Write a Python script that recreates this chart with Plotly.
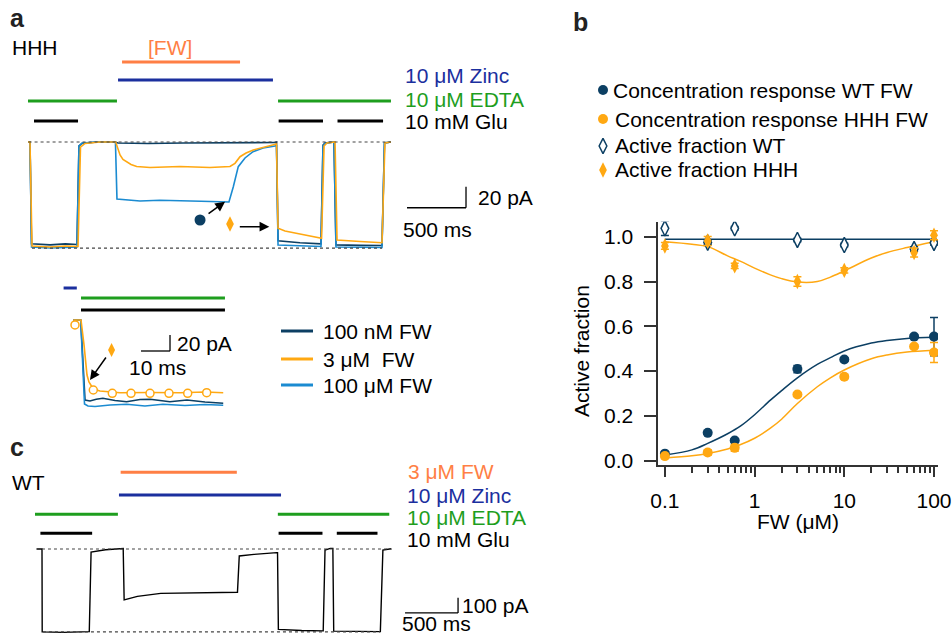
import plotly.graph_objects as go

W, H = 952, 637

# ---------------- Panel a : main HHH traces (time in ms, current in pA)
a_navy_t = [-17, 0, 13, 170, 300, 398, 415, 441, 568, 720, 746, 1000, 1300, 1695, 2076, 2089,
            2102, 2288, 2466, 2483, 2500, 2576, 2593, 2800, 2983, 3004, 3059]
a_navy_i = [0, 0, -97, -98, -97, -97.6, -3.8, -1.4, 0, 0, -1, -1.5, -1, -1, -0.5, 0,
            -94, -96, -97, -2.9, -1, 0, -98, -98.5, -98.6, -1, 0]

a_blue_t = [-17, 0, 13, 170, 300, 398, 415, 441, 568, 724, 737, 932, 1100, 1271, 1450, 1686,
            1703, 1723, 1765, 1822, 1890, 1975, 2076, 2089, 2102, 2288, 2466, 2483, 2500, 2576,
            2593, 2800, 2983, 3004, 3059]
a_blue_i = [0, 0, -100, -101, -100.5, -100, -3.8, -1, 0, 0, -54.3, -56.2, -55.5, -55.7, -56.5, -57.1,
            -51.4, -42.6, -23.5, -15.2, -9.2, -5.7, -3.8, -2.9, -98.1, -99, -99.5, -3.8, -1.4, 0,
            -100, -100.2, -100.5, -1, 0]

a_orng_t = [-17, 0, 17, 170, 300, 407, 428, 466, 593, 726, 746, 763, 788, 820, 856, 904, 1017, 1271,
            1525, 1695, 1737, 1780, 1831, 1892, 1975, 2076, 2089, 2102, 2161, 2288, 2471, 2492, 2517,
            2585, 2602, 2797, 2983, 3008, 3059]
a_orng_i = [0, 0, -99, -100, -99, -99.5, -4.8, -1.4, 0, 0, -6.7, -12.4, -16.7, -18.8, -21.4, -23.3, -24.3,
            -23.3, -24.3, -23.3, -20.3, -14, -10.5, -7.6, -5.2, -2.9, -1.9, -82.2, -84.8, -87.6, -91.7,
            -3.8, -1, 0, -93.3, -94.8, -95.9, -1, 0]

a_fw_bar = [780, 1780]
a_zinc_bar = [746, 2059]
a_edta_bars = [[-17, 737], [2102, 3059]]
a_glu_bars = [[34, 407], [2107, 2483], [2606, 2992]]
a_base_span = [-12, 3059]
a_full_span = [17, 2983]
a_full_level = -101
a_scale_ms, a_scale_pa = 500, 20

# ---------------- Panel a inset (time in ms, current in pA)
i_navy_t = [0.1, 2.66, 4.14, 5.86, 8, 10.3, 14.5, 18.5, 23.1, 26.6, 33.4, 39.3, 45.5, 51.8]
i_navy_i = [0, 0, -100, -101.2, -99, -97.9, -100.6, -102.1, -99.4, -99.1, -102.1, -100, -102.5, -104.1]
i_blue_t = [0.1, 2.66, 3.97, 5.17, 7.6, 12.8, 18.5, 24.8, 31, 38.6, 45.5, 51.8]
i_blue_i = [0, 0, -105, -107.5, -108.1, -106.2, -105.4, -107.5, -105.4, -106.9, -105.6, -106.6]
i_orng_t = [0.1, 2.76, 3.8, 4.83, 5.5, 7, 9.3, 16.2, 26.6, 36.9, 45.5, 51.8]
i_orng_i = [0, 0, -31.2, -68.8, -77.5, -86.2, -88.8, -90.9, -90.6, -90.9, -90, -90.9]
i_fit_t = [0.69, 7, 13.55, 20, 26.55, 33.1, 39.55, 46.1]
i_fit_i = [-6.2, -87.5, -91.6, -91.6, -91.6, -91.6, -91.6, -90.9]
i_zinc_bar = [-3.24, 1.31]
i_glu_bar = [2.76, 52.4]
i_scale_ms, i_scale_pa = 10, 20
inset_labels = ["100 nM FW", "3 μM\u00a0 FW", "100 μM FW"]

# ---------------- Panel c : WT trace
c_t = [-47, 0, 2, 200, 446, 463, 600, 764, 766, 775, 900, 1120, 1500, 1844, 1861, 2000, 2215,
       2222, 2230, 2450, 2653, 2670, 2720, 2744, 2752, 3000, 3192, 3216, 3293]
c_i = [0, 0, -542, -545, -540, -19.6, -5, 3, 3, -333, -310, -290, -285, -283, -45.7, -35, -24,
       -24, -525, -533, -535, -6.5, 4, 4, -537, -540, -540, -6.5, 2]
c_fw_bar = [742, 1838]
c_zinc_bar = [726, 2255]
c_edta_bars = [[-66, 716], [2225, 3276]]
c_glu_bars = [[-15, 473], [2232, 2646], [2781, 3165]]
c_base_span = [-57, 3302]
c_full_span = [9, 3189]
c_full_level = -542
c_scale_ms, c_scale_pa = 500, 100

# ---------------- Panel b : concentration response
conc = [0.1, 0.3, 0.6, 3, 10, 60, 100]
wt_cr = [0.031, 0.124, 0.09, 0.409, 0.452, 0.554, 0.554]
wt_cr_err = [0.005, 0.005, 0.008, 0.016, 0.008, 0.008, 0.085]
hhh_cr = [0.02, 0.036, 0.057, 0.295, 0.375, 0.51, 0.483]
hhh_cr_err = [0.005, 0.012, 0.015, 0.008, 0.01, 0.008, 0.045]
wt_af = [1.038, 0.974, 1.038, 0.986, 0.963, 0.945, 0.973]
wt_af_err = [0.032, 0.01, 0.008, 0.008, 0.008, 0.01, 0.01]
hhh_af = [0.959, 0.981, 0.87, 0.80, 0.85, 0.93, 1.007]
hhh_af_err = [0.015, 0.02, 0.012, 0.021, 0.012, 0.02, 0.02]

fit_x = [0.1, 0.2, 0.3, 0.5, 0.7, 1, 1.5, 2, 3, 5, 7, 10, 20, 30, 50, 100]
wt_cr_fit = [0.025, 0.048, 0.077, 0.12, 0.155, 0.205, 0.27, 0.313, 0.37, 0.43, 0.46, 0.49, 0.525, 0.537, 0.546, 0.551]
hhh_cr_fit = [0.012, 0.022, 0.032, 0.052, 0.072, 0.1, 0.145, 0.185, 0.255, 0.33, 0.37, 0.405, 0.455, 0.472, 0.485, 0.493]
hhh_af_fit = [0.978, 0.967, 0.956, 0.915, 0.89, 0.86, 0.83, 0.813, 0.798, 0.8, 0.82, 0.848, 0.905, 0.93, 0.952, 0.978]
wt_af_fit_x = [0.1, 100]
wt_af_fit = [0.989, 0.989]
b_xticks = [0.1, 1, 10, 100]
b_xticklabels = ["0.1", "1", "10", "100"]
b_yticks = [0, 0.2, 0.4, 0.6, 0.8, 1.0]
b_yticklabels = ["0.0", "0.2", "0.4", "0.6", "0.8", "1.0"]
arrow_conc = [3, 100]
arrow_head = [0.748, 0.416]
legend_labels = ["Concentration response WT FW", "Concentration response HHH FW",
                 "Active fraction WT", "Active fraction HHH"]

# ---------------- styles
NAVY = "#0c3f63"
ORANGE = "#ffa812"
LBLUE = "#1b8bd1"
CORAL = "#ff7f45"
ZBLUE = "#1b2f9e"
GREEN = "#1e9e1e"
AXC = "#333333"
FONT = "Liberation Sans, Arial, sans-serif"
FS = 21


def fx(px):
    return px / W


def fy(py):
    return 1 - py / H


def hax(p0, p1, origin, scale):
    # horizontal hidden axis: pixel p maps to value (p - origin) / scale
    return dict(domain=[fx(p0), fx(p1)], range=[(p0 - origin) / scale, (p1 - origin) / scale],
                visible=False, fixedrange=True)


def vax(p0, p1, origin, scale, anchor):
    # vertical hidden axis: pixel row p maps to value (origin - p) / scale
    return dict(domain=[fy(p1), fy(p0)], range=[(origin - p1) / scale, (origin - p0) / scale],
                visible=False, fixedrange=True, anchor=anchor)


fig = go.Figure()

# ---- panel a traces
for t, i, c in [(a_navy_t, a_navy_i, NAVY), (a_blue_t, a_blue_i, LBLUE), (a_orng_t, a_orng_i, ORANGE)]:
    fig.add_trace(go.Scatter(x=t, y=i, mode="lines", line=dict(color=c, width=1.6),
                             xaxis="x", yaxis="y", hoverinfo="skip"))
fig.add_trace(go.Scatter(x=[1441], y=[-74.3], mode="markers", xaxis="x", yaxis="y",
                         marker=dict(color=NAVY, size=11, symbol="circle")))
fig.add_trace(go.Scatter(x=[1695], y=[-78.1], mode="markers", xaxis="x", yaxis="y",
                         marker=dict(color=ORANGE, size=11, symbol="diamond-tall")))

# ---- inset traces
for t, i, c in [(i_navy_t, i_navy_i, NAVY), (i_blue_t, i_blue_i, LBLUE), (i_orng_t, i_orng_i, ORANGE)]:
    fig.add_trace(go.Scatter(x=t, y=i, mode="lines", line=dict(color=c, width=1.6),
                             xaxis="x2", yaxis="y2", hoverinfo="skip"))
fig.add_trace(go.Scatter(x=i_fit_t, y=i_fit_i, mode="markers", xaxis="x2", yaxis="y2",
                         marker=dict(color="white", size=8, symbol="circle",
                                     line=dict(color=ORANGE, width=1.5))))
fig.add_trace(go.Scatter(x=[13.3], y=[-37.5], mode="markers", xaxis="x2", yaxis="y2",
                         marker=dict(color=ORANGE, size=10, symbol="diamond-tall")))

# ---- panel c trace
fig.add_trace(go.Scatter(x=c_t, y=c_i, mode="lines", line=dict(color="black", width=1.4),
                         xaxis="x3", yaxis="y3", hoverinfo="skip"))

# ---- panel b
fig.add_trace(go.Scatter(x=wt_af_fit_x, y=wt_af_fit, mode="lines", line=dict(color=NAVY, width=1.5),
                         xaxis="x4", yaxis="y4"))
fig.add_trace(go.Scatter(x=fit_x, y=hhh_af_fit, mode="lines", line=dict(color=ORANGE, width=1.5, shape="spline"),
                         xaxis="x4", yaxis="y4"))
fig.add_trace(go.Scatter(x=fit_x, y=wt_cr_fit, mode="lines", line=dict(color=NAVY, width=1.5, shape="spline"),
                         xaxis="x4", yaxis="y4"))
fig.add_trace(go.Scatter(x=fit_x, y=hhh_cr_fit, mode="lines", line=dict(color=ORANGE, width=1.5, shape="spline"),
                         xaxis="x4", yaxis="y4"))


def err(arr, c):
    return dict(type="data", array=arr, visible=True, thickness=1.5, width=4, color=c)


MK_WT_CR = dict(color=NAVY, size=10, symbol="circle")
MK_HHH_CR = dict(color=ORANGE, size=10, symbol="circle")
MK_WT_AF = dict(color="white", size=11, symbol="diamond-tall", line=dict(color=NAVY, width=1.5))
MK_HHH_AF = dict(color=ORANGE, size=11, symbol="diamond-tall")

for ys, es, mk, col, nm in [(wt_cr, wt_cr_err, MK_WT_CR, NAVY, legend_labels[0]),
                            (hhh_cr, hhh_cr_err, MK_HHH_CR, ORANGE, legend_labels[1]),
                            (wt_af, wt_af_err, MK_WT_AF, NAVY, legend_labels[2]),
                            (hhh_af, hhh_af_err, MK_HHH_AF, ORANGE, legend_labels[3])]:
    fig.add_trace(go.Scatter(x=conc, y=ys, mode="markers", name=nm, marker=mk,
                             error_y=err(es, col), xaxis="x4", yaxis="y4"))

# ---- legend of panel b (glyphs on an overlay axis in pixel units)
leg_rows = [90, 119, 146, 170]
for mk, yy in zip([MK_WT_CR, MK_HHH_CR, MK_WT_AF, MK_HHH_AF], leg_rows):
    fig.add_trace(go.Scatter(x=[603], y=[yy], mode="markers", marker=mk, xaxis="x5", yaxis="y5",
                             hoverinfo="skip"))

shapes = []


def hline(x0, x1, y, xref, yref, color, width=3, dash=None):
    ln = dict(color=color, width=width)
    if dash:
        ln["dash"] = dash
    shapes.append(dict(type="line", x0=x0, x1=x1, y0=y, y1=y, xref=xref, yref=yref, line=ln, layer="above"))


def vline(x, y0, y1, xref, yref, color, width=1.3):
    shapes.append(dict(type="line", x0=x, x1=x, y0=y0, y1=y1, xref=xref, yref=yref,
                       line=dict(color=color, width=width), layer="above"))


# panel a bars & guides
hline(*a_fw_bar, 76.2, "x", "y", CORAL)
hline(*a_zinc_bar, 59.0, "x", "y", ZBLUE)
for b in a_edta_bars:
    hline(*b, 39.0, "x", "y", GREEN)
for b in a_glu_bars:
    hline(*b, 20.0, "x", "y", "black")
hline(*a_base_span, 0, "x", "y", "#444", 1.2, "dot")
hline(*a_full_span, a_full_level, "x", "y", "#444", 1.2, "dot")
hline(3195, 3195 + a_scale_ms, -62.6, "x", "y", "black", 1.3)
vline(3195 + a_scale_ms, -62.6, -62.6 + a_scale_pa, "x", "y", "black")

# inset bars & scale
hline(*i_zinc_bar, 40, "x2", "y2", ZBLUE)
hline(*i_glu_bar, 27.5, "x2", "y2", GREEN)
hline(*i_glu_bar, 12.5, "x2", "y2", "black")
hline(23.45, 23.45 + i_scale_ms, -38.75, "x2", "y2", "black", 1.3)
vline(23.45 + i_scale_ms, -38.75, -38.75 + i_scale_pa, "x2", "y2", "black")

# panel c bars & guides
hline(*c_fw_bar, 501, "x3", "y3", CORAL)
hline(*c_zinc_bar, 353, "x3", "y3", ZBLUE)
for b in c_edta_bars:
    hline(*b, 227, "x3", "y3", GREEN)
for b in c_glu_bars:
    hline(*b, 103, "x3", "y3", "black")
hline(*c_base_span, 0, "x3", "y3", "#444", 1.2, "dot")
hline(*c_full_span, c_full_level, "x3", "y3", "#444", 1.2, "dot")
hline(3425, 3425 + c_scale_ms, -418, "x3", "y3", "black", 1.3)
vline(3425 + c_scale_ms, -418, -418 + c_scale_pa, "x3", "y3", "black")

# inset legend glyphs
for yy, col in zip([331, 359, 385], [NAVY, ORANGE, LBLUE]):
    shapes.append(dict(type="line", x0=fx(281), x1=fx(313), y0=fy(yy), y1=fy(yy), xref="paper",
                       yref="paper", line=dict(color=col, width=3)))

annotations = []


def txt(s, x, y, color="black", size=FS, bold=False, anchor="left", angle=0):
    annotations.append(dict(text=f"<b>{s}</b>" if bold else s, x=fx(x), y=fy(y), xref="paper", yref="paper",
                            xanchor=anchor, yanchor="middle", showarrow=False, textangle=angle,
                            font=dict(family=FONT, size=size, color=color)))


txt("a", 8, 18, "#222", 25, True)
txt("b", 571, 22, "#222", 25, True)
txt("c", 8, 447, "#222", 25, True)

txt("HHH", 10, 47)
txt("[FW]", 146, 47, CORAL)
txt("10 μM Zinc", 403, 75, ZBLUE)
txt("10 μM EDTA", 403, 99, GREEN)
txt("10 mM Glu", 403, 121)
txt("20 pA", 476, 197)
txt("500 ms", 401, 229)

txt("20 pA", 175, 343)
txt("10 ms", 127, 367)
for s, yy in zip(inset_labels, [331, 359, 385]):
    txt(s, 321, yy)

txt("WT", 10, 482)
txt("3 μM FW", 406, 471, CORAL)
txt("10 μM Zinc", 405, 495, ZBLUE)
txt("10 μM EDTA", 405, 517, GREEN)
txt("10 mM Glu", 405, 539)
txt("100 pA", 460, 605)
txt("500 ms", 400, 623)

txt("Active fraction", 582, 351, anchor="center", angle=-90)
txt("FW (μM)", 798, 521, anchor="center")

for s, yy, xx in zip(legend_labels, leg_rows, [611, 613, 613, 613]):
    txt(s, xx, yy)


# arrows
def arrow(x, y, ax, ay, xref, yref):
    annotations.append(dict(x=x, y=y, ax=ax, ay=ay, xref=xref, yref=yref, text="", showarrow=True,
                            arrowhead=2, arrowsize=1.3, arrowwidth=1.5, arrowcolor="black"))


arrow(1653, -56.9, -18, 13, "x", "y")
arrow(2028, -80.7, -31, 0, "x", "y")
arrow(5.86, -75, 17, -24, "x2", "y2")
for xc, yh in zip(arrow_conc, arrow_head):
    arrow(xc, yh, 0, 19 if xc < 50 else 24, "x4", "y4")

fig.update_layout(
    width=W, height=H, margin=dict(l=0, r=0, t=0, b=0, pad=0, autoexpand=False),
    paper_bgcolor="white", plot_bgcolor="rgba(0,0,0,0)",
    font=dict(family=FONT, size=FS, color="black"),
    shapes=shapes, annotations=annotations, showlegend=False,
    xaxis=hax(0, 560, 30, 0.118),
    yaxis=vax(0, 265, 142, 1.05, "x"),
    xaxis2=dict(hax(40, 260, 73, 2.9), anchor="y2"),
    yaxis2=vax(272, 420, 320, 0.8, "x2"),
    xaxis3=dict(hax(0, 560, 42, 0.106), anchor="y3"),
    yaxis3=vax(440, 637, 549, 0.153, "x3"),
    xaxis4=dict(type="log", domain=[fx(657.5), fx(938)], range=[-1.0825, 2.0446], anchor="y4",
                showline=True, linecolor=AXC, linewidth=2, ticks="outside", ticklen=10, tickwidth=1.8,
                tickcolor=AXC, tickvals=b_xticks, ticktext=b_xticklabels, showgrid=False, zeroline=False,
                ticklabelstandoff=6, tickfont=dict(size=FS, color="black"),
                minor=dict(ticks="outside", ticklen=6, tickwidth=1.5, tickcolor=AXC, showgrid=False,
                           tickvals=[m * d for d in [0.1, 1, 10] for m in range(2, 10)]),
                fixedrange=True),
    yaxis4=dict(domain=[fy(465), fy(221.7)], range=[-0.01966, 1.06747], anchor="x4",
                showline=True, linecolor=AXC, linewidth=2, ticks="outside", ticklen=12, tickwidth=1.8,
                tickcolor=AXC, tickvals=b_yticks, ticktext=b_yticklabels, showgrid=False, zeroline=False,
                ticklabelstandoff=6, tickfont=dict(size=FS, color="black"), fixedrange=True),
    xaxis5=dict(domain=[0, 1], range=[0, W], visible=False, fixedrange=True, anchor="y5"),
    yaxis5=dict(domain=[0, 1], range=[H, 0], visible=False, fixedrange=True, anchor="x5"),
)

fig.write_html("out.html", config={"displayModeBar": False},
               post_script="document.body.style.margin='0';document.body.style.overflow='hidden';")
